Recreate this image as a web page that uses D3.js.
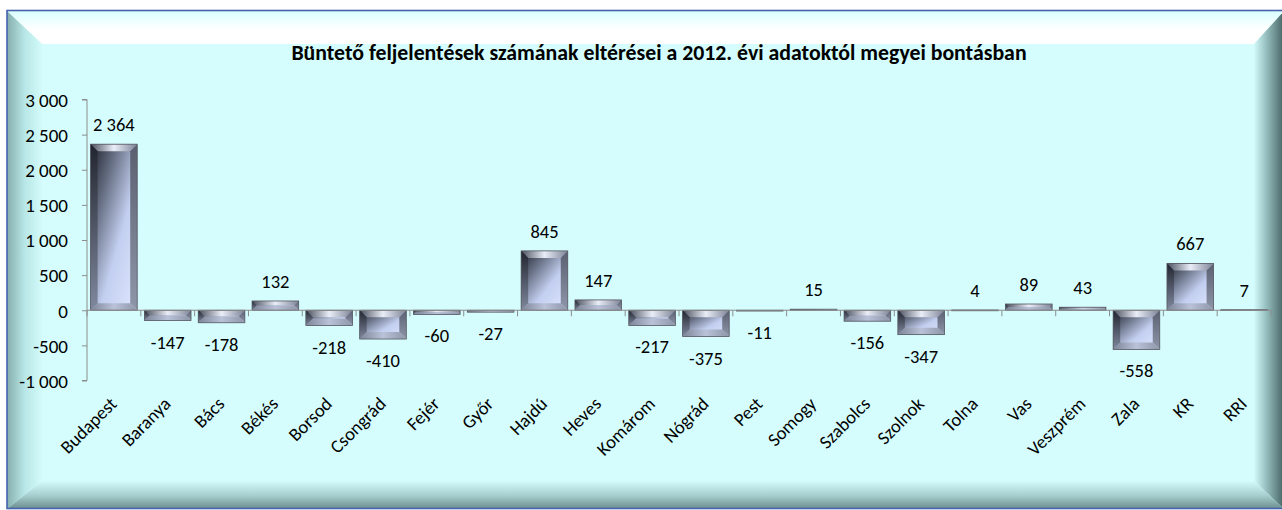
<!DOCTYPE html>
<html>
<head>
<meta charset="utf-8">
<script src="https://cdn.jsdelivr.net/npm/d3@7.9.0/dist/d3.min.js"></script>
<style>
  html, body { margin: 0; padding: 0; background: #fff; }
  svg { display: block; }
  text { font-family: Carlito, Calibri, Lato, sans-serif; }
</style>
</head>
<body>
<svg id="chart" width="1282" height="510"></svg>
<script>
// === Data ===
const counties = ['Budapest', 'Baranya', 'Bács', 'Békés', 'Borsod', 'Csongrád', 'Fejér', 'Győr',
  'Hajdú', 'Heves', 'Komárom', 'Nógrád', 'Pest', 'Somogy', 'Szabolcs', 'Szolnok', 'Tolna',
  'Vas', 'Veszprém', 'Zala', 'KR', 'RRI'];
const diffs = [2364, -147, -178, 132, -218, -410, -60, -27, 845, 147, -217, -375, -11, 15,
  -156, -347, 4, 89, 43, -558, 667, 7];
const yTicks = [-1000, -500, 0, 500, 1000, 1500, 2000, 2500, 3000];
const title = 'Büntető feljelentések számának eltérései a 2012. évi adatoktól megyei bontásban';

const FS = 18.5;   // label font size
const svg = d3.select('#chart');
const defs = svg.append('defs');

// hungarian style numbers: space as thousands separator, plain hyphen minus
const huFormat = d3.formatLocale({
  decimal: ',', thousands: ' ', grouping: [3], currency: ['', ''], minus: '-'
}).format(',d');

// gradient helper
function grad(id, x1, y1, x2, y2, stops) {
  const g = defs.append('linearGradient').attr('id', id)
    .attr('x1', x1).attr('y1', y1).attr('x2', x2).attr('y2', y2);
  stops.forEach(([o, c]) => g.append('stop').attr('offset', o).attr('stop-color', c));
}

// --- frame gradients ---
grad('gTop', 0, 0, 0, 1, [[0, '#d9ffff'], [0.55, '#ffffff'], [1, '#ffffff']]);
grad('gLeft', 0, 0, 1, 0, [[0, '#86aeae'], [0.5, '#b8e6e6'], [1, '#d3fbfb']]);
grad('gRight', 0, 0, 1, 0, [[0, '#d3fbfb'], [0.4, '#98c0c0'], [1, '#466464']]);
grad('gBottom', 0, 0, 0, 1, [[0, '#d3fbfb'], [0.5, '#a9d0d0'], [1, '#6a8c8c']]);

// --- bar gradients ---
grad('gBar', 0, 0, 1, 1, [[0, '#1b1e29'], [0.3, '#6b7489'], [0.6, '#c3cff0'], [1, '#dfe8ff']]);
grad('gBevTop', 0, 0, 1, 0, [[0, '#4a4f5e'], [0.5, '#e9edf7'], [1, '#7c8396']]);
grad('gBevBot', 0, 0, 1, 0, [[0, '#7d8598'], [0.5, '#b9c2d8'], [1, '#8d95a8']]);
grad('gBevLeft', 0, 0, 0, 1, [[0, '#22252f'], [1, '#7f889e']]);
grad('gBevRight', 0, 0, 0, 1, [[0, '#5a6070'], [1, '#8e96aa']]);

// === Frame ===
const fx0 = 7, fy0 = 11, fx1 = 1284, fy1 = 509;
const bL = 35, bT = 33, bR = 30, bB = 28;
svg.append('rect').attr('x', fx0).attr('y', fy0).attr('width', fx1 - fx0).attr('height', fy1 - fy0)
  .attr('fill', '#d5fdfd');
const ix0 = fx0 + bL, iy0 = fy0 + bT, ix1 = fx1 - bR, iy1 = fy1 - bB;
const poly = (pts, fill) => svg.append('polygon')
  .attr('points', pts.map(p => p.join(',')).join(' ')).attr('fill', fill);
poly([[fx0, fy0], [fx1, fy0], [ix1, iy0], [ix0, iy0]], 'url(#gTop)');
poly([[fx0, fy0], [ix0, iy0], [ix0, iy1], [fx0, fy1]], 'url(#gLeft)');
poly([[fx1, fy0], [fx1, fy1], [ix1, iy1], [ix1, iy0]], 'url(#gRight)');
poly([[fx0, fy1], [ix0, iy1], [ix1, iy1], [fx1, fy1]], 'url(#gBottom)');
svg.append('rect').attr('x', fx0).attr('y', fy0 - 0.5).attr('width', fx1 - fx0).attr('height', fy1 - fy0)
  .attr('fill', 'none').attr('stroke', '#4563b0').attr('stroke-width', 1.6);

// === Title ===
svg.append('text').attr('x', 659).attr('y', 60).attr('text-anchor', 'middle')
  .attr('font-size', 21.8).attr('font-weight', 'bold').attr('fill', '#000').text(title);

// === Scales ===
const x = d3.scaleBand().domain(counties).range([87, 1271]).paddingInner(0.134).paddingOuter(0.067);
const y = d3.scaleLinear().domain([-1000, 3000]).range([380.5, 99.5]);

// y axis
const yAxis = svg.append('g').attr('transform', 'translate(87,0)')
  .call(d3.axisLeft(y).tickValues(yTicks).tickSize(5).tickPadding(14).tickFormat(huFormat));
yAxis.select('.domain').attr('stroke', '#8c8c8c').attr('d', `M-5,${y(-1000)}H0V${y(3000)}H-5`);
yAxis.selectAll('.tick line').attr('stroke', '#8c8c8c');
yAxis.selectAll('.tick text').attr('font-size', 19).attr('fill', '#000')
  .attr('font-family', 'Carlito, Calibri, Lato, sans-serif').attr('dy', '0.36em');

// === Bars ===
const bars = svg.append('g');
counties.forEach((c, i) => {
  const v = diffs[i];
  const bx = x(c), bw = x.bandwidth();
  const top = y(Math.max(0, v)), bot = y(Math.min(0, v));
  const bh = bot - top;
  const g = bars.append('g');
  g.append('rect').attr('x', bx).attr('y', top).attr('width', bw).attr('height', Math.max(bh, 0.8))
    .attr('fill', 'url(#gBar)');
  const b = Math.min(7, bh / 2, bw / 2);
  if (b > 0.8) {
    const p = (pts, fill) => g.append('polygon')
      .attr('points', pts.map(q => q.join(',')).join(' ')).attr('fill', fill);
    const x0 = bx, x1 = bx + bw, y0 = top, y1 = bot;
    p([[x0, y0], [x1, y0], [x1 - b, y0 + b], [x0 + b, y0 + b]], 'url(#gBevTop)');
    p([[x0, y0], [x0 + b, y0 + b], [x0 + b, y1 - b], [x0, y1]], 'url(#gBevLeft)');
    p([[x1, y0], [x1, y1], [x1 - b, y1 - b], [x1 - b, y0 + b]], 'url(#gBevRight)');
    p([[x0, y1], [x0 + b, y1 - b], [x1 - b, y1 - b], [x1, y1]], 'url(#gBevBot)');
  }
  g.append('rect').attr('x', bx).attr('y', top).attr('width', bw).attr('height', Math.max(bh, 0.8))
    .attr('fill', 'none').attr('stroke', '#55585f').attr('stroke-width', 0.8);

  // value label
  svg.append('text')
    .attr('x', bx + bw / 2)
    .attr('y', v >= 0 ? top - 13 : bot + 28)
    .attr('text-anchor', 'middle').attr('font-size', FS).attr('fill', '#000')
    .text(huFormat(v));
});

// === X axis (category line at zero) ===
const xa = svg.append('g');
xa.append('line').attr('x1', 87).attr('x2', 1271).attr('y1', y(0)).attr('y2', y(0))
  .attr('stroke', '#8c8c8c').attr('stroke-width', 1.2);
d3.range(counties.length + 1).forEach(i => {
  const tx = 87 + i * x.step();
  xa.append('line').attr('x1', tx).attr('x2', tx).attr('y1', y(0)).attr('y2', y(0) + 6)
    .attr('stroke', '#8c8c8c');
});

// rotated category labels
svg.append('g').selectAll('text').data(counties).join('text')
  .attr('transform', d => `translate(${x(d) + x.bandwidth() / 2 + 4},${405}) rotate(-45)`)
  .attr('text-anchor', 'end').attr('font-size', FS).attr('fill', '#000')
  .text(d => d);
</script>
</body>
</html>
